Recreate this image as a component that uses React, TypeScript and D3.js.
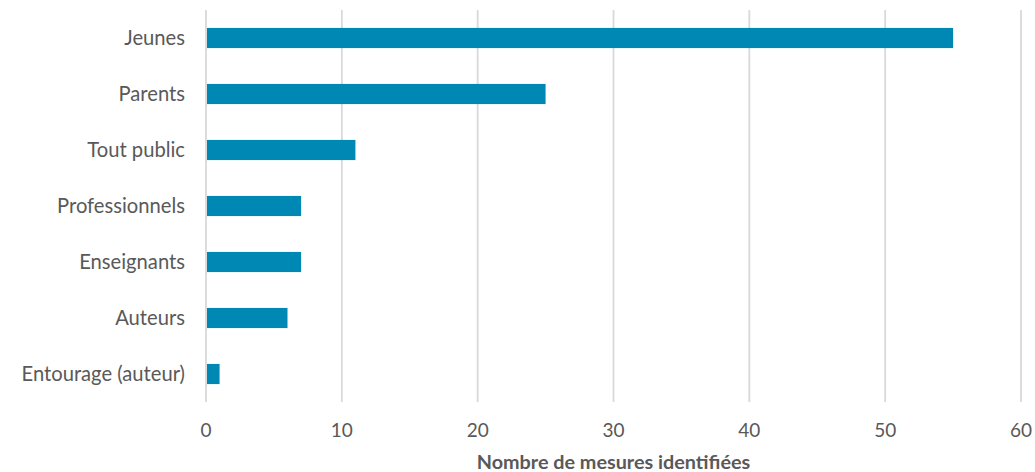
import * as d3 from "d3";

const categories = [
  "Jeunes",
  "Parents",
  "Tout public",
  "Professionnels",
  "Enseignants",
  "Auteurs",
  "Entourage (auteur)",
];
const counts = [55, 25, 11, 7, 7, 6, 1];
const xTicks = [0, 10, 20, 30, 40, 50, 60];
const xTitle = "Nombre de mesures identifiées";

const WIDTH = 1035;
const HEIGHT = 472;
const FONT = "Lato, 'Open Sans', sans-serif";
const TEXT = "#595959";
const BAR = "#0088b4";
const GRID = "#d9d9d9";

export default function App() {
  const plot = { left: 206, right: 1021, top: 10, bottom: 402 };

  const x = d3.scaleLinear().domain([0, 60]).range([plot.left, plot.right]);
  const y = d3
    .scaleBand<string>()
    .domain(categories)
    .range([plot.top, plot.bottom])
    .paddingInner(0.64)
    .paddingOuter(0.32);

  return (
    <>
      <style>{`body{margin:0}`}</style>
      <svg width={WIDTH} height={HEIGHT} style={{ display: "block", fontFamily: FONT }}>
        <rect width={WIDTH} height={HEIGHT} fill="#fff" />

        {/* vertical gridlines */}
        {xTicks.map((t) => (
          <line
            key={t}
            x1={x(t)}
            x2={x(t)}
            y1={plot.top}
            y2={plot.bottom}
            stroke={GRID}
            strokeWidth={1.8}
          />
        ))}

        {/* bars */}
        {categories.map((c, i) => (
          <rect
            key={c}
            x={x(0) + 1}
            y={y(c)}
            width={x(counts[i]) - x(0) - 1}
            height={y.bandwidth()}
            fill={BAR}
          />
        ))}

        {/* category labels */}
        {categories.map((c) => (
          <text
            key={c}
            x={185}
            y={(y(c) ?? 0) + y.bandwidth() / 2}
            dy="0.35em"
            textAnchor="end"
            fontSize={20.2}
            fill={TEXT}
          >
            {c}
          </text>
        ))}

        {/* tick labels */}
        {xTicks.map((t) => (
          <text key={t} x={x(t)} y={437} textAnchor="middle" fontSize={19} fill={TEXT}>
            {t}
          </text>
        ))}

        <text
          x={(plot.left + plot.right) / 2}
          y={469}
          textAnchor="middle"
          fontSize={19.8}
          fontWeight="bold"
          fill={TEXT}
        >
          {xTitle}
        </text>
      </svg>
    </>
  );
}
